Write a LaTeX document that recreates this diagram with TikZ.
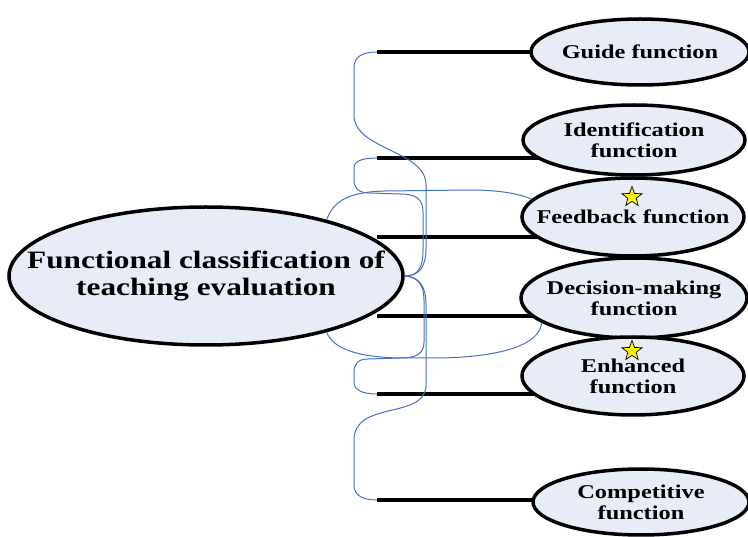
\documentclass[tikz,border=0pt]{standalone}
\usepackage{fontspec}
\newfontfamily\evalfont{Liberation Serif}[FakeStretch=1.25]
\usetikzlibrary{shapes.geometric}
\usetikzlibrary{backgrounds}
\definecolor{ellfill}{RGB}{231,236,247}
\definecolor{linkblue}{RGB}{68,114,196}

\begin{document}
\begin{tikzpicture}[x=1pt,y=-1pt,
    fun/.style={ellipse,draw=black,line width=3.5pt,fill=ellfill,inner xsep=-40pt,inner ysep=0pt,align=center,font=\evalfont\bfseries\fontsize{19.5}{21}\selectfont},
    root/.style={fun,inner xsep=-70pt,font=\evalfont\bfseries\fontsize{25}{27}\selectfont},
    stem/.style={line width=3.5pt,black},
    link/.style={linkblue,line width=1pt},
    starmark/.style={star,star points=5,star point ratio=2.4,draw=black,line width=0.7pt,fill=yellow,minimum size=21pt,inner sep=0pt}]
  \useasboundingbox (0,0) rectangle (748,537);
  % central ellipse and the six functions
  \node[root,minimum width=394pt,minimum height=138pt] (cls) at (206,276) {Functional classification of\\teaching evaluation};
  \node[fun,minimum width=218pt,minimum height=66pt] (guide) at (640,52) {Guide function};
  \node[fun,minimum width=222pt,minimum height=70pt] (ident) at (634,140) {Identification\\function};
  \node[fun,minimum width=222pt,minimum height=78pt] (feed) at (633,217) {Feedback function};
  \node[fun,minimum width=226pt,minimum height=80pt] (decis) at (634,298) {Decision-making\\function};
  \node[fun,minimum width=222pt,minimum height=78pt] (enhan) at (633,376) {Enhanced\\function};
  \node[fun,minimum width=216pt,minimum height=66pt] (compet) at (641,502) {Competitive\\function};
  \node[starmark] (feedstar) at (632,197) {};
  \node[starmark] (enhstar) at (632,351) {};
  % left ends of the stems
  \coordinate (hub) at (cls.east);
  \coordinate (g0) at (377,52);
  \coordinate (i0) at (377,158);
  \coordinate (f0) at (377,237);
  \coordinate (d0) at (377,316);
  \coordinate (e0) at (377,394);
  \coordinate (c0) at (377,500);
  \begin{scope}[on background layer]
    \draw[stem] (g0) -- (g0 -| guide.center);
    \draw[stem] (i0) -- (i0 -| ident.center);
    \draw[stem] (f0) -- (f0 -| feed.center);
    \draw[stem] (d0) -- (d0 -| decis.center);
    \draw[stem] (e0) -- (e0 -| enhan.center);
    \draw[stem] (c0) -- (c0 -| compet.center);
  \end{scope}
  % brace
  \draw[link] (hub) .. controls (420,276) and (426,266) .. (426,248) -- (426,185)
    .. controls (426,150) and (354,150) .. (354,115) -- (354,68)
    .. controls (354,57) and (362,52) .. (g0);
  \draw[link] (hub) .. controls (418,276) and (423,268) .. (423,250) -- (423,212)
    .. controls (423,198) and (415,194) .. (400,194) -- (370,193)
    .. controls (358,193) and (354,188) .. (354,180) -- (354,168)
    .. controls (354,161) and (362,158) .. (i0);
  \draw[link] (hub) .. controls (418,277) and (424,285) .. (424,300) -- (424,342)
    .. controls (424,354) and (416,358) .. (400,358) -- (368,359)
    .. controls (358,359) and (354,364) .. (354,372) -- (354,382)
    .. controls (354,390) and (362,394) .. (e0);
  \draw[link] (hub) .. controls (420,277) and (426,287) .. (426,305) -- (426,385)
    .. controls (426,420) and (354,400) .. (354,440) -- (354,485)
    .. controls (354,495) and (362,500) .. (c0);
  % loops to feedback and decision-making
  \draw[link] (cls.25) .. controls (333,203) and (345,192) .. (385,191) -- (470,190)
    .. controls (500,190) and (520,194) .. (feed.170);
  \draw[link] (cls.-25) .. controls (333,348) and (355,357) .. (400,358) -- (440,358)
    .. controls (500,357) and (540,345) .. (decis.195);
\end{tikzpicture}
\end{document}
